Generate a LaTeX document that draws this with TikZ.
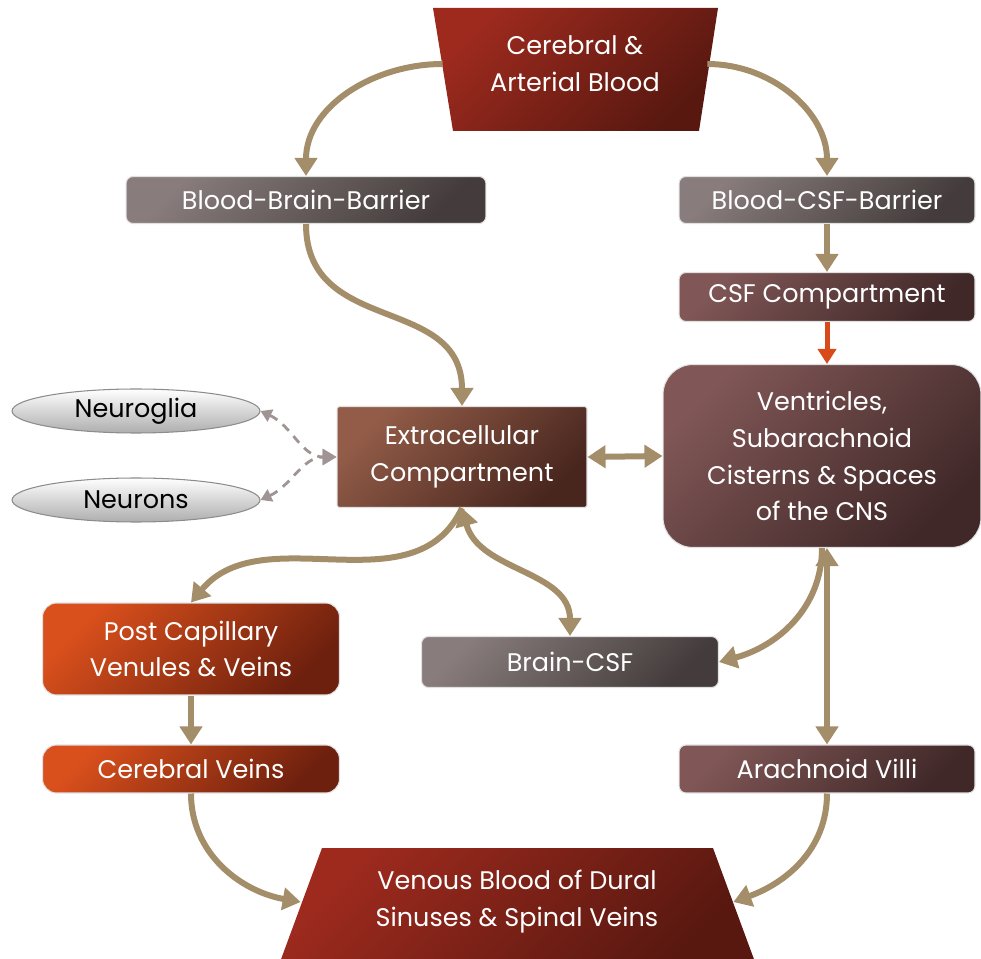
\documentclass[tikz,border=0pt]{standalone}
\usepackage{fontspec}
\setmainfont{Poppins}
\usetikzlibrary{arrows.meta,shapes.geometric}

\definecolor{flowtan}{HTML}{A48E6A}
\definecolor{flowred}{HTML}{D84A1A}
\definecolor{dashgrey}{HTML}{A09494}

\tikzset{
  box/.style={rectangle, rounded corners=4pt, draw=black!12, line width=0.6pt,
    text=white, align=center, inner sep=0pt,
    font=\fontsize{14.5}{21}\selectfont},
  diag/.style={shading angle=45},
  greybox/.style={box, left color={rgb,255:red,136;green,124;blue,124}, right color={rgb,255:red,68;green,60;blue,60}, diag},
  plumbox/.style={box, left color={rgb,255:red,128;green,86;blue,86}, right color={rgb,255:red,64;green,40;blue,40}, diag},
  rustbox/.style={box, left color={rgb,255:red,146;green,92;blue,72}, right color={rgb,255:red,72;green,38;blue,30}, diag},
  veinbox/.style={box, rounded corners=8pt, left color={rgb,255:red,218;green,80;blue,28}, right color={rgb,255:red,110;green,32;blue,14}, diag},
  cellnode/.style={ellipse, draw=black!45, line width=0.6pt, top color=white, bottom color=black!32,
    minimum width=4.96cm, minimum height=0.88cm, inner sep=0pt, font=\fontsize{14.5}{17}\selectfont},
  trapfill/.style={left color={rgb,255:red,158;green,42;blue,30}, right color={rgb,255:red,88;green,24;blue,16}, diag},
  traptext/.style={text=white, align=center, inner sep=0pt, font=\fontsize{14.5}{21}\selectfont},
  flow/.style={draw=flowtan, line width=0.12cm, -{Triangle[width=0.44cm,length=0.36cm]}},
  flowboth/.style={draw=flowtan, line width=0.12cm, {Triangle[width=0.44cm,length=0.36cm]}-{Triangle[width=0.44cm,length=0.36cm]}},
  dashflow/.style={draw=dashgrey, line width=1.6pt, dash pattern=on 5pt off 4pt,
    {Triangle[width=0.26cm,length=0.22cm]}-{Triangle[width=0.32cm,length=0.28cm]}},
}

\begin{document}
\begin{tikzpicture}[x=0.02cm, y=0.02cm]
\useasboundingbox (0,0) rectangle (981,-959);

% arterial and venous blood
\shade[trapfill] (433,-8) -- (718,-8) -- (699,-131) -- (453,-131) -- cycle;
\node[traptext, minimum width=5.28cm] (art) at (575,-64) {Cerebral \&\\Arterial Blood};
\shade[trapfill] (322,-848) -- (713,-848) -- (755,-962) -- (280,-962) -- cycle;
\node[traptext, minimum width=8.64cm] (ven) at (517,-902) {Venous Blood of Dural\\Sinuses \& Spinal Veins};

% barriers and compartments
\node[greybox, minimum width=7.2cm, minimum height=0.94cm] (bbb) at (306,-200) {Blood-Brain-Barrier};
\node[greybox, minimum width=5.92cm, minimum height=0.94cm] (bcsf) at (827,-200) {Blood-CSF-Barrier};
\node[plumbox, minimum width=5.92cm, minimum height=0.98cm] (csf) at (827,-297) {CSF Compartment};
\node[plumbox, rounded corners=0.6cm, minimum width=6.36cm, minimum height=3.66cm] (vent) at (822,-456)
  {Ventricles,\\Subarachnoid\\Cisterns \& Spaces\\of the CNS};
\node[rustbox, rounded corners=1pt, minimum width=5.0cm, minimum height=2.02cm] (ecc) at (462,-457)
  {Extracellular\\Compartment};
\node[cellnode] (glia) at (136,-411) {Neuroglia};
\node[cellnode] (neur) at (136,-500) {Neurons};

% drainage
\node[veinbox, minimum width=5.94cm, minimum height=1.84cm] (pcv) at (191,-649) {Post Capillary\\Venules \& Veins};
\node[veinbox, minimum width=5.94cm, minimum height=0.96cm] (cv) at (191,-769) {Cerebral Veins};
\node[greybox, minimum width=5.94cm, minimum height=1.02cm] (bcsfx) at (570,-662) {Brain-CSF};
\node[plumbox, minimum width=5.92cm, minimum height=0.96cm] (av) at (827,-769) {Arachnoid Villi};

% connectors
\draw[flow] (art.west) to[out=180, in=90] (bbb.north);
\draw[flow] (art.east) to[out=0, in=90] (bcsf.north);
\draw[flow] (bcsf.south) -- (csf.north);
\draw[draw=flowred, line width=0.1cm, -{Triangle[width=0.36cm,length=0.3cm]}] (csf.south) -- (csf.south |- vent.north);
\draw[flow] (bbb.south) to[out=-90, in=90, looseness=1.2] (ecc.north);
\draw[flowboth] (ecc.east) -- (vent.west);
\draw[flowboth] (ecc.south) to[out=-75, in=90] (bcsfx.north);
\draw[flow] (ecc.south) to[out=-115, in=50] (pcv.north);
\draw[flowboth] (av.north |- vent.south) -- (av.north);
\draw[flow] (vent.south) to[out=-90, in=15] (bcsfx.east);
\draw[flow] (pcv.south) -- (cv.north);
\draw[flow] (cv.south) to[out=-90, in=170] (ven.west);
\draw[flow] (av.south) to[out=-90, in=20] (ven.east);
\draw[dashflow] (glia.east) to[out=-25, in=180] (ecc.west);
\draw[dashflow] (neur.east) to[out=25, in=180] (ecc.west);
\end{tikzpicture}
\end{document}
